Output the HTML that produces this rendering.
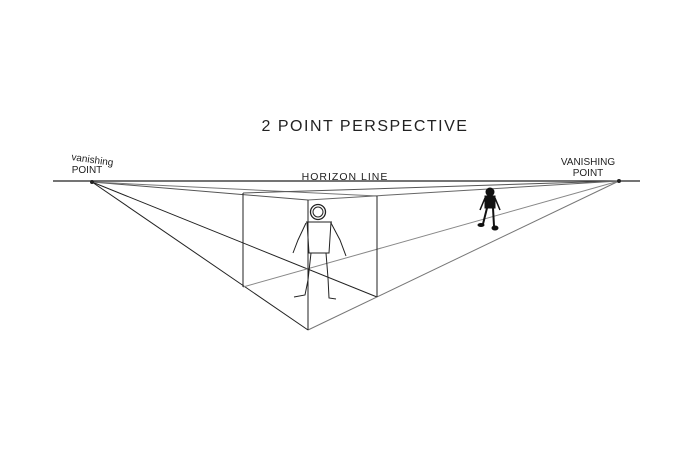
<!DOCTYPE html>
<html><head><style>
html,body{margin:0;padding:0;background:#fff;}
svg{display:block}
text{font-family:"Liberation Sans",sans-serif;fill:#222}
</style></head><body>
<svg width="690" height="450" viewBox="0 0 690 450" xmlns="http://www.w3.org/2000/svg">
<rect width="690" height="450" fill="#fff"/>
<text x="365" y="131" font-size="16" text-anchor="middle" letter-spacing="1.5">2 POINT PERSPECTIVE</text>
<text x="345" y="180" font-size="10.5" text-anchor="middle" letter-spacing="1">HORIZON LINE</text>
<text x="92" y="163" font-size="10" text-anchor="middle" transform="rotate(8 92 163)">vanishing</text>
<text x="87" y="173" font-size="10" text-anchor="middle">POINT</text>
<text x="588" y="165" font-size="10" text-anchor="middle">VANISHING</text>
<text x="588" y="176" font-size="10" text-anchor="middle">POINT</text>
<g stroke="#222" fill="none" stroke-width="1">
<line x1="53" y1="181" x2="640" y2="181" stroke-width="1.3"/>
<line x1="92" y1="182" x2="308" y2="330"/>
<line x1="92" y1="182" x2="377" y2="297"/>
<line x1="92" y1="182" x2="308" y2="200" stroke="#555"/>
<line x1="92" y1="182" x2="377" y2="196" stroke="#777"/>
<line x1="619" y1="181" x2="308" y2="330" stroke="#777"/>
<line x1="619" y1="181" x2="243" y2="287" stroke="#888"/>
<line x1="619" y1="181" x2="243" y2="193" stroke="#555"/>
<line x1="619" y1="181" x2="308" y2="200" stroke="#666"/>
<line x1="243" y1="193" x2="243" y2="287"/>
<line x1="308" y1="200" x2="308" y2="330"/>
<line x1="377" y1="196" x2="377" y2="297"/>
<circle cx="318" cy="212" r="7.5" stroke-width="1.3"/>
<circle cx="318" cy="212" r="5" />
<path d="M306 222 L332 222 M307 222 L309 253 L329 253 L331 222"/>
<path d="M306 223 L298 240 L293 253 M331 223 L340 240 L346 256"/>
<path d="M311 253 L308 280 L305 295 L294 297 M326 253 L328 278 L329 298 L336 299"/>
<circle cx="92" cy="182" r="1.5" fill="#222"/>
<circle cx="619" cy="181" r="1.5" fill="#222"/>
</g>
<g stroke="#111" fill="#111">
<circle cx="490" cy="192" r="4"/>
<rect x="485" y="196" width="10" height="12"/>
<path d="M485 198 L480 210 M495 198 L500 210" stroke-width="1.5" fill="none"/>
<path d="M487 208 L483 224 M493 208 L494 226" stroke-width="2" fill="none"/>
<ellipse cx="481" cy="225" rx="3" ry="1.5"/>
<ellipse cx="495" cy="228" rx="3" ry="2"/>
</g>
</svg>
</body></html>
